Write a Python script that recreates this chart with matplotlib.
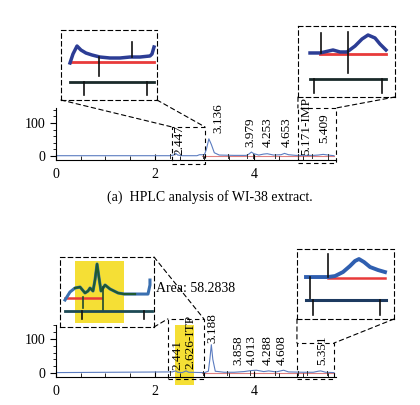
import matplotlib
matplotlib.use('Agg')
import matplotlib.pyplot as plt
from matplotlib.patches import Rectangle, ConnectionPatch

plt.rcParams['font.family'] = ['Liberation Serif', 'DejaVu Serif']

# chromatogram (a) WI-38 extract
time_a = [0, 2.3, 2.38, 2.42, 2.46, 2.55, 2.85, 2.9, 3.0, 3.04, 3.09, 3.14, 3.2, 3.3,
          3.6, 3.85, 3.9, 3.95, 4.0, 4.1, 4.2, 4.27, 4.4, 4.55, 4.62, 4.7, 4.85,
          5.2, 5.3, 5.4, 5.5, 5.62]
signal_a = [1, 1, 3, 8, 3, 1, 1, 4, 4, 20, 52, 35, 10, 3,
            2, 2, 6, 12, 7, 3, 6, 7, 3, 4, 8, 4, 2,
            2, 3, 5, 3, 1]
peaks_a = ['2.447', '3.136', '3.979', '4.253', '4.653', '5.171-IMP', '5.409']
peak_pos_a = [2.5, 3.29, 3.92, 4.28, 4.67, 5.05, 5.43]
peak_base_a = [2, 70, 27, 27, 27, 2, 40]
marks_a = [2.3, 2.97, 3.47, 3.86, 3.98, 4.42, 4.89, 5.17, 5.5]

# chromatogram (b)
time_b = [0, 2.35, 2.42, 2.46, 2.55, 2.6, 2.63, 2.68, 3.0, 3.08, 3.11, 3.14, 3.17, 3.22,
          3.4, 3.6, 3.8, 3.95, 4.05, 4.2, 4.3, 4.45, 4.6, 4.7, 5.0, 5.2, 5.3, 5.35,
          5.45, 5.62]
signal_b = [1, 3, 6, 2, 1, 4, 6, 2, 1, 5, 40, 83, 40, 5,
            2, 2, 4, 7, 8, 4, 6, 3, 8, 3, 2, 2, 5, 6,
            2, 1]
peaks_b = ['2.441', '2.626-ITP', '3.188', '3.858', '4.013', '4.288', '4.608', '5.351']
peak_pos_b = [2.46, 2.72, 3.16, 3.68, 3.96, 4.28, 4.57, 5.39]
peak_base_b = [8, 12, 88, 22, 22, 22, 22, 22]
marks_b = [2.3, 2.97, 3.45, 3.92, 4.42, 4.89, 5.07, 5.47]

# inset traces (local 0-100 units)
ins_a1_blue_x = [9.4, 12.5, 16.7, 20.8, 26, 32.3, 40.6, 51, 61.5, 71.9, 82.3, 92.7, 94.8, 96.9]
ins_a1_blue_y = [52.9, 65.7, 77.1, 71.4, 67.1, 64.3, 61.4, 60, 60, 61.4, 61.4, 62.9, 65.7, 75.7]
ins_a2_blue_x = [12.4, 22.7, 36.1, 43.3, 50.5, 58.8, 66, 72.2, 79.4, 84.5, 90.7]
ins_a2_blue_y = [62, 62, 66.2, 63.4, 63.4, 71.8, 81.7, 87.3, 83.1, 74.6, 66.2]
ins_b1_x = [5.3, 10.6, 16, 21.3, 26.6, 29.8, 31.9, 35.1, 37.2, 39.4, 41.5, 43.6, 47.9,
            53.2, 61.7, 68.1, 79.8, 93.6, 95.7, 95.7]
ins_b1_y = [38.6, 50, 55.7, 57.1, 48.6, 51.4, 55.7, 51.4, 67.1, 90, 70, 51.4, 60,
            54.3, 48.6, 47.1, 47.1, 47.1, 60, 67.1]
ins_b2_blue_x = [9.3, 32, 39.2, 47.4, 54.6, 59.8, 63.9, 69.1, 75.3, 83.5, 90.7]
ins_b2_blue_y = [60, 60, 61.4, 67.1, 75.7, 82.9, 85.7, 81.4, 74.3, 70, 67.1]

trace_col = '#5b7cc0'
base_col = '#e08080'
dash = (0, (4, 3))

fig = plt.figure(figsize=(4.2, 4.05), dpi=100)


def main_axes(rect, t, s, ylim, names, pos, base, marks):
    ax = fig.add_axes(rect)
    ax.plot(t, s, color=trace_col, lw=0.8)
    ax.plot([2.95, 5.62], [-1, -1], color=base_col, lw=0.8, zorder=1)
    for m in marks:
        ax.plot([m, m], [-5, 6], color='#333333', lw=0.7)
    for n, p, b in zip(names, pos, base):
        ax.text(p, b, n, rotation=90, ha='center', va='bottom', fontsize=9.5)
    ax.set_xlim(0, 5.66)
    ax.set_ylim(*ylim)
    ax.spines['top'].set_visible(False)
    ax.spines['right'].set_visible(False)
    ax.set_xticks([0, 2, 4])
    ax.set_xticks([0.5, 1, 1.5, 2.5, 3, 3.5, 4.5, 5, 5.5], minor=True)
    ax.set_yticks([0, 100])
    ax.set_yticks([20, 40, 60, 80, 120, 140], minor=True)
    ax.tick_params(axis='x', direction='in', length=4, labelsize=10, pad=6)
    ax.tick_params(axis='x', which='minor', direction='in', length=3)
    ax.tick_params(axis='y', direction='out', length=4, labelsize=10)
    ax.tick_params(axis='y', which='minor', direction='out', length=2)
    return ax


def inset(rect):
    ia = fig.add_axes(rect)
    ia.set_xlim(0, 100)
    ia.set_ylim(0, 100)
    ia.set_xticks([])
    ia.set_yticks([])
    ia.patch.set_alpha(0)
    for sp in ia.spines.values():
        sp.set_linestyle(dash)
        sp.set_linewidth(0.8)
    return ia


def zoom_box(ax, x0, x1, y0, y1):
    ax.add_patch(Rectangle((x0, y0), x1 - x0, y1 - y0, fill=False, ls=dash,
                           lw=0.8, color='black', clip_on=False))


def connect(ia, corner, ax, pt):
    fig.add_artist(ConnectionPatch(xyA=corner, coordsA=ia.transAxes, xyB=pt,
                                   coordsB=ax.transData, ls=dash, lw=0.8,
                                   color='black'))


# ---- panel (a)
ax1 = main_axes([0.1333, 0.6049, 0.6667, 0.1284], time_a, signal_a, (-12, 145),
                peaks_a, peak_pos_a, peak_base_a, marks_a)
zoom_box(ax1, 2.34, 3.01, -24, 88)
zoom_box(ax1, 4.89, 5.66, -21, 145)
fig.text(0.5, 1 - 197 / 405, '(a)  HPLC analysis of WI-38 extract.', ha='center',
         va='center', fontsize=10)

i1 = inset([0.1452, 0.7531, 0.2286, 0.1728])
i1.plot([9.4, 96.9], [54.3, 54.3], color='#e83a3a', lw=2)
i1.plot(ins_a1_blue_x, ins_a1_blue_y, color='#2c3d95', lw=2.5)
i1.plot([39.6, 39.6], [61.4, 34.3], color='#111111', lw=1.2)
i1.plot([74, 74], [82.9, 61.4], color='#111111', lw=1.2)
i1.plot([9.4, 96.9], [25.7, 25.7], color='#1a2a2a', lw=2)
i1.plot([24, 24], [25.7, 7.1], color='#111111', lw=1.2)
i1.plot([89.6, 89.6], [25.7, 7.1], color='#111111', lw=1.2)
connect(i1, (0, 0), ax1, (2.34, 88))
connect(i1, (1, 0), ax1, (3.01, 88))

i2 = inset([0.7095, 0.7605, 0.2310, 0.1753])
i2.plot([22.7, 90.7], [60.6, 60.6], color='#e83a3a', lw=2)
i2.plot(ins_a2_blue_x, ins_a2_blue_y, color='#2c3d95', lw=2.5)
i2.plot([23.7, 23.7], [90.1, 62], color='#111111', lw=1.2)
i2.plot([51.5, 51.5], [91.5, 33.8], color='#111111', lw=1.2)
i2.plot([12.4, 90.7], [25.4, 25.4], color='#1a2a2a', lw=2)
i2.plot([16.5, 16.5], [25.4, 5.6], color='#111111', lw=1.2)
i2.plot([86.6, 86.6], [25.4, 5.6], color='#111111', lw=1.2)
connect(i2, (0, 0), ax1, (4.89, 145))
connect(i2, (1, 0), ax1, (5.66, 145))

# ---- panel (b)
ax2 = main_axes([0.1333, 0.0691, 0.6667, 0.1284], time_b, signal_b, (-12, 141),
                peaks_b, peak_pos_b, peak_base_b, marks_b)
ax2.add_patch(Rectangle((2.4, -35), 0.39, 176, color='#f5df35', zorder=0,
                        clip_on=False, lw=0))
zoom_box(ax2, 2.26, 2.99, -18, 159)
zoom_box(ax2, 4.87, 5.62, -18, 88)

i3 = inset([0.1429, 0.1926, 0.2238, 0.1728])
i3.add_patch(Rectangle((16, 5.7), 52.1, 88.6, color='#f5df35', lw=0, zorder=0))
i3.plot([5.3, 43.6], [41.4, 41.4], color='#e83a3a', lw=1.8)
i3.plot(ins_b1_x, ins_b1_y, color='#3a6fb0', lw=2.2)
i3.plot(ins_b1_x[2:17], ins_b1_y[2:17], color='#1f5a30', lw=1.6)
i3.plot([24.5, 24.5], [42.9, 27.1], color='#1f4a30', lw=1.2)
i3.plot([45.7, 45.7], [57.1, 24.3], color='#1f4a30', lw=1.2)
i3.plot([5.3, 97.9], [22.9, 22.9], color='#1d4a55', lw=2)
i3.plot([23.4, 23.4], [22.9, 11.4], color='#111111', lw=1.2)
i3.plot([89.4, 89.4], [22.9, 11.4], color='#111111', lw=1.2)
connect(i3, (1, 1), ax2, (2.99, 159))
connect(i3, (1, 0), ax2, (2.26, 159))
fig.text(156 / 420, 1 - 289 / 405, 'Area: 58.2838', ha='left', va='center',
         fontsize=10)

i4 = inset([0.7071, 0.2123, 0.2310, 0.1728])
i4.plot([32, 90.7], [58.6, 58.6], color='#e83a3a', lw=1.8)
i4.plot(ins_b2_blue_x, ins_b2_blue_y, color='#2f5fb0', lw=2.8)
i4.plot([32, 32], [92.9, 60], color='#111111', lw=1.2)
i4.plot([13.4, 13.4], [60, 27.1], color='#111111', lw=1.2)
i4.plot([9.3, 91.8], [27.1, 27.1], color='#1d3a60', lw=2.2)
i4.plot([16.5, 16.5], [27.1, 5.7], color='#111111', lw=1.2)
i4.plot([85.6, 85.6], [27.1, 5.7], color='#111111', lw=1.2)
connect(i4, (0, 0), ax2, (4.87, 88))
connect(i4, (1, 0), ax2, (5.62, 88))

fig.savefig('out.png', dpi=100)
plt.close(fig)
